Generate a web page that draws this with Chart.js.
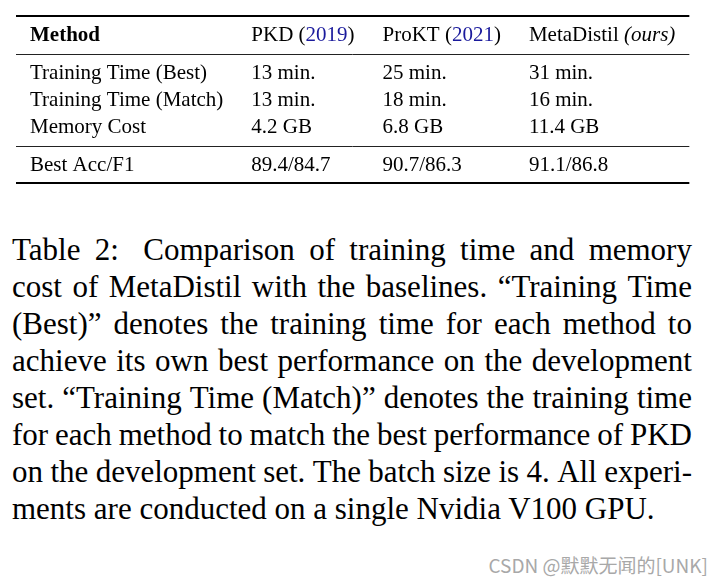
<!DOCTYPE html>
<html>
<head>
<meta charset="utf-8">
<script src="https://cdn.jsdelivr.net/npm/chart.js@4.4.1/dist/chart.umd.min.js"></script>
<style>
  html, body { margin: 0; padding: 0; background: #fff; }
  body { width: 722px; height: 584px; position: relative; overflow: hidden; }
  #tableWrap { position: absolute; left: 0; top: 0; width: 722px; height: 200px; }
  #caption {
    position: absolute; left: 12px; top: 231px; width: 680px;
    font-family: "Liberation Serif", "Times New Roman", serif; font-size: 31px; color: #000;
  }
  .line { display: flex; justify-content: space-between; height: 37px; line-height: 37px; white-space: nowrap; }
  .line.last { display: block; white-space: pre; }
  #mark {
    position: absolute; right: 14px; top: 551px;
    font-family: "Liberation Sans Narrow", "Noto Sans CJK SC", sans-serif; font-size: 19px; color: #a8a8a8;
  }
</style>
</head>
<body>
<div id="tableWrap"><canvas id="tableChart" width="722" height="200"></canvas></div>
<div id="caption"></div>
<div id="mark">CSDN @默默无闻的[UNK]</div>

<script>
// --- dados da tabela ---
const columns = ['Method', 'PKD (2019)', 'ProKT (2021)', 'MetaDistil (ours)'];
const rowLabels = ['Training Time (Best)', 'Training Time (Match)', 'Memory Cost', 'Best Acc/F1'];
const pkd = ['13 min.', '13 min.', '4.2 GB', '89.4/84.7'];
const prokt = ['25 min.', '18 min.', '6.8 GB', '90.7/86.3'];
const metadistil = ['31 min.', '16 min.', '11.4 GB', '91.1/86.8'];
const blocks = [3, 1]; // linhas em cada bloco entre as regras

const captionLines = [
  'Table 2:  Comparison of training time and memory',
  'cost of MetaDistil with the baselines. \u201CTraining Time',
  '(Best)\u201D denotes the training time for each method to',
  'achieve its own best performance on the development',
  'set. \u201CTraining Time (Match)\u201D denotes the training time',
  'for each method to match the best performance of PKD',
  'on the development set. The batch size is 4. All experi-',
  'ments are conducted on a single Nvidia V100 GPU.'
];

// --- layout ---
const FONT = '"Liberation Serif", "Times New Roman", serif';
const FONT_PX = 21;
const PAD = 14;          // espaço de cada lado da coluna
const TABLE_LEFT = 16;
const ROW_PX = 27;
const TOP_RULE_PX = 16;
const CANVAS_H = 200;
const YEAR_BLUE = '#1a1a9c';

// posições das linhas (em "linhas", com meio espaço extra nas regras)
const rowPos = [0];
const rules = [{ y: -0.7, w: 2 }, { y: 0.7, w: 1 }];
let idx = 1, extra = 0.4;
blocks.forEach((n, b) => {
  for (let i = 0; i < n; i++) { rowPos.push(idx + extra); idx++; }
  const last = rowPos[rowPos.length - 1];
  rules.push({ y: last + 0.7, w: b === blocks.length - 1 ? 2 : 1 });
  extra += 0.4;
});

const cells = [
  [columns[0]].concat(rowLabels),
  [columns[1]].concat(pkd),
  [columns[2]].concat(prokt),
  [columns[3]].concat(metadistil)
];

// quebra o texto em pedaços com estilo (ano em azul, "(ours)" em itálico)
function segments(str) {
  const out = [];
  str.split(/(\(\d{4}\)|\(ours\))/).forEach(p => {
    if (!p) return;
    const m = p.match(/^\((\d{4})\)$/);
    if (m) {
      out.push({ t: '(' }, { t: m[1], color: YEAR_BLUE }, { t: ')' });
    } else if (p === '(ours)') {
      out.push({ t: p, italic: true });
    } else out.push({ t: p });
  });
  return out;
}
function fontFor(seg, bold) {
  return (seg.italic ? 'italic ' : '') + (bold ? 'bold ' : '') + FONT_PX + 'px ' + FONT;
}
function measure(ctx, str, bold) {
  return segments(str).reduce((w, s) => { ctx.font = fontFor(s, bold); return w + ctx.measureText(s.t).width; }, 0);
}

// largura das colunas calculada pelo conteúdo (como no LaTeX)
const mctx = document.createElement('canvas').getContext('2d');
const colX = [];
let x = TABLE_LEFT;
cells.forEach((col, c) => {
  const w = Math.max(...col.map((s, r) => measure(mctx, s, c === 0 && r === 0)));
  colX.push(x + PAD);
  x += w + 2 * PAD;
});
const TABLE_RIGHT = x;

const yMin = -0.7 - TOP_RULE_PX / ROW_PX;
const yMax = yMin + CANVAS_H / ROW_PX;

const tablePlugin = {
  id: 'tableText',
  afterDatasetsDraw(chart) {
    const ctx = chart.ctx;
    const ys = chart.scales.y;
    ctx.save();
    // regras horizontais
    rules.forEach(r => {
      const py = Math.round(ys.getPixelForValue(r.y)) + (r.w === 1 ? 0.5 : 0);
      ctx.beginPath();
      ctx.lineWidth = r.w;
      ctx.strokeStyle = r.w === 1 ? '#222' : '#000';
      ctx.moveTo(TABLE_LEFT, py);
      ctx.lineTo(TABLE_RIGHT, py);
      ctx.stroke();
    });
    // texto das células
    ctx.textBaseline = 'middle';
    ctx.textAlign = 'left';
    chart.data.datasets.forEach((ds, d) => {
      const meta = chart.getDatasetMeta(d);
      meta.data.forEach((el, i) => {
        const str = ds.data[i].text;
        const bold = d === 0 && i === 0;
        let px = el.x;
        segments(str).forEach(s => {
          ctx.font = fontFor(s, bold);
          ctx.fillStyle = s.color || '#000';
          ctx.fillText(s.t, px, el.y + 1);
          px += ctx.measureText(s.t).width;
        });
      });
    });
    ctx.restore();
  }
};

new Chart(document.getElementById('tableChart'), {
  type: 'scatter',
  data: {
    datasets: cells.map((col, c) => ({
      label: columns[c],
      data: col.map((t, r) => ({ x: colX[c], y: rowPos[r], text: t })),
      pointRadius: 0
    }))
  },
  options: {
    responsive: false,
    animation: false,
    layout: { padding: 0 },
    plugins: { legend: { display: false }, tooltip: { enabled: false } },
    scales: {
      x: { type: 'linear', display: false, min: 0, max: 722 },
      y: { type: 'linear', display: false, reverse: true, min: yMin, max: yMax }
    }
  },
  plugins: [tablePlugin]
});

// --- legenda (texto justificado) ---
const cap = document.getElementById('caption');
captionLines.forEach((line, i) => {
  const div = document.createElement('div');
  if (i === captionLines.length - 1) {
    div.className = 'line last';
    div.textContent = line;
  } else {
    div.className = 'line';
    let prev = null;
    line.split(' ').forEach(w => {
      if (!w) { if (prev) prev.style.marginRight = '10px'; return; }
      const span = document.createElement('span');
      span.textContent = w;
      div.appendChild(span);
      prev = span;
    });
  }
  cap.appendChild(div);
});
</script>
</body>
</html>
